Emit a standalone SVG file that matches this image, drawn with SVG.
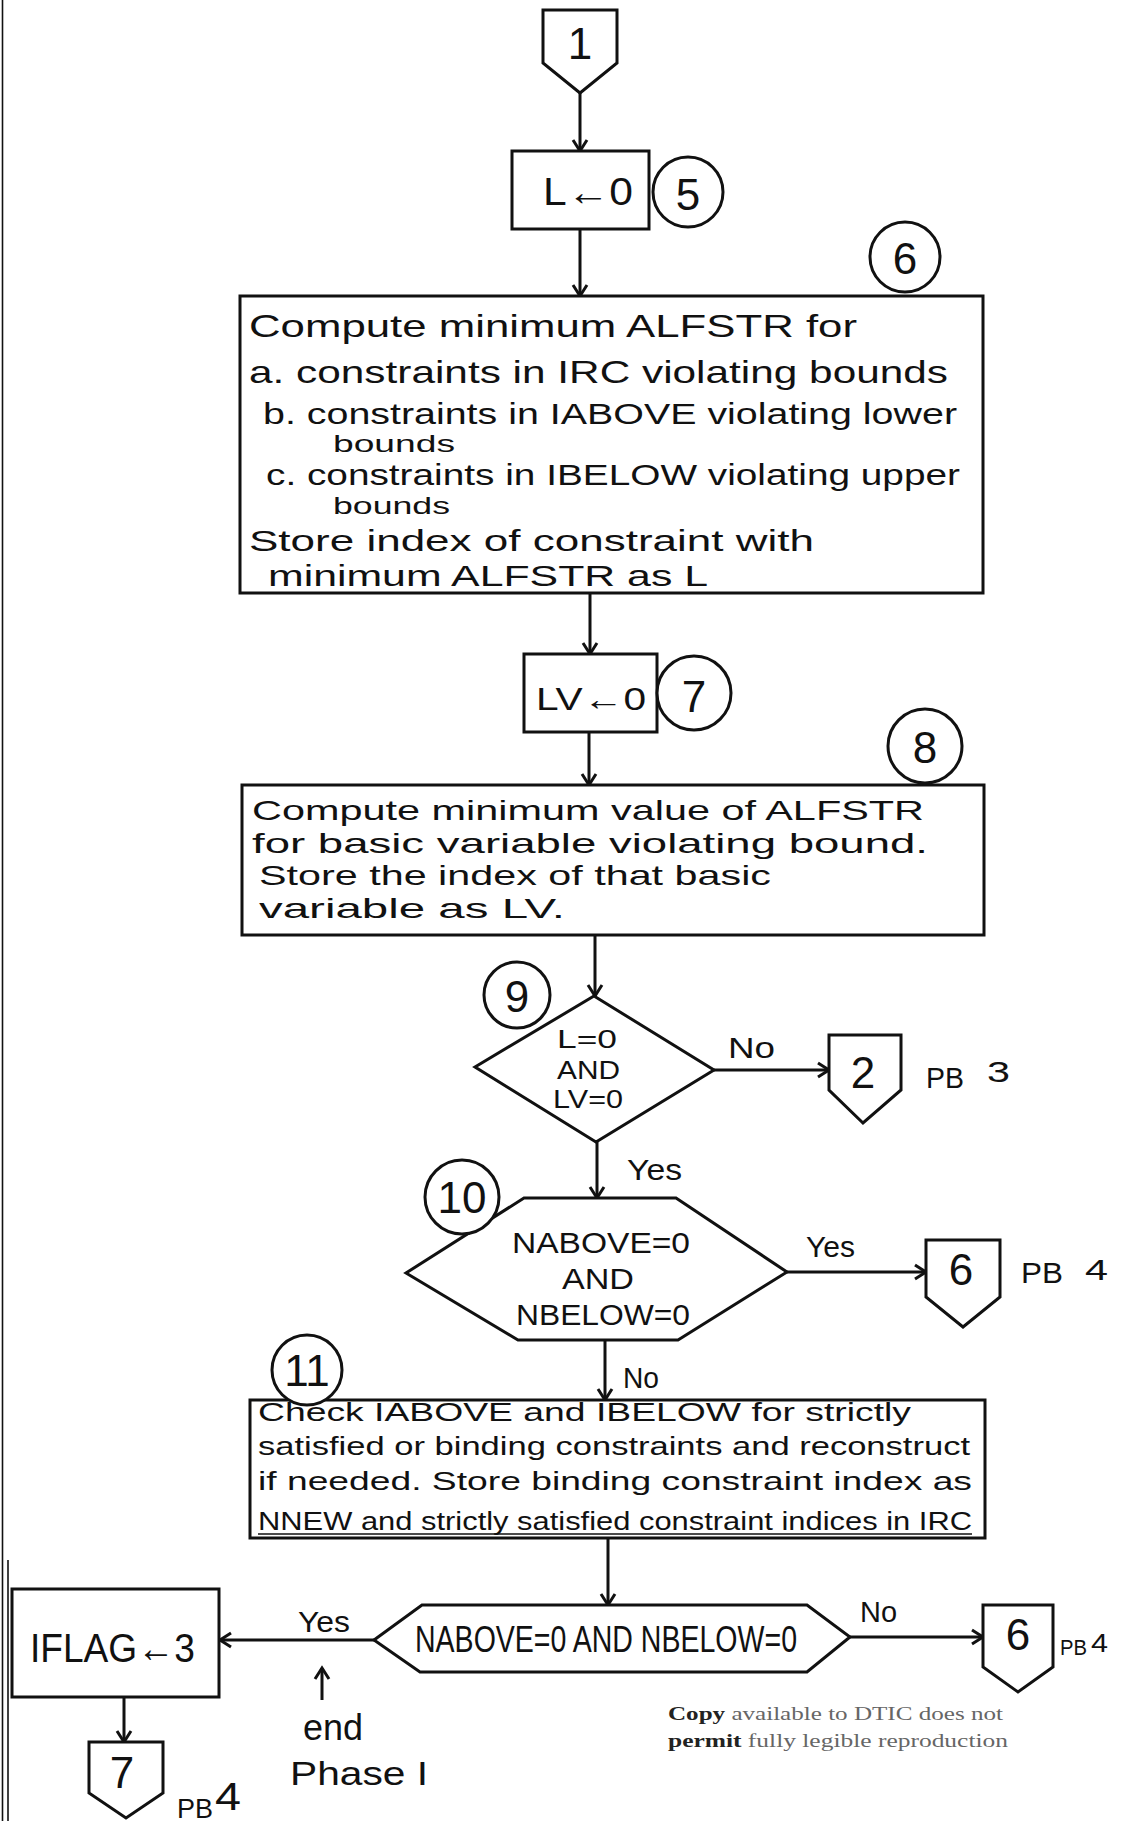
<svg xmlns="http://www.w3.org/2000/svg" width="1148" height="1821" viewBox="0 0 1148 1821">
<style>
.sh{fill:#fff;stroke:#111;stroke-width:3;stroke-linejoin:miter}
.ln{fill:none;stroke:#111;stroke-width:3}
.thin{fill:none;stroke:#111;stroke-width:1.6}
text{font-family:"Liberation Sans",Arial,sans-serif;fill:#111}
.t32{font-size:32px}
.t30{font-size:30px}
.t28{font-size:28px}
.t26{font-size:26px}
.t24{font-size:24px}
.num{font-size:44px;text-anchor:middle}
.lbl{font-size:30px}
.cr{font-family:"Liberation Serif","Times New Roman",serif;font-size:18px;fill:#666}
</style>
<defs>
<marker id="ah" markerWidth="18" markerHeight="18" refX="14" refY="9" orient="auto" markerUnits="userSpaceOnUse">
<path d="M3,2 L14,9 L3,16" fill="none" stroke="#111" stroke-width="3"/>
</marker>
</defs>
<rect x="0" y="0" width="1148" height="1821" fill="#fff"/>
<line x1="2.5" y1="0" x2="2.5" y2="1821" class="thin"/>
<line x1="8" y1="1560" x2="8" y2="1821" class="thin"/>

<g id="connectors">
<line x1="580" y1="93" x2="580" y2="151" class="ln" marker-end="url(#ah)"/>
<line x1="580" y1="229" x2="580" y2="296" class="ln" marker-end="url(#ah)"/>
<line x1="590" y1="593" x2="590" y2="654" class="ln" marker-end="url(#ah)"/>
<line x1="589" y1="732" x2="589" y2="785" class="ln" marker-end="url(#ah)"/>
<line x1="595" y1="935" x2="595" y2="996" class="ln" marker-end="url(#ah)"/>
<line x1="714" y1="1070" x2="829" y2="1070" class="ln" marker-end="url(#ah)"/>
<line x1="597" y1="1142" x2="597" y2="1198" class="ln" marker-end="url(#ah)"/>
<line x1="787" y1="1272" x2="926" y2="1272" class="ln" marker-end="url(#ah)"/>
<line x1="605" y1="1340" x2="605" y2="1400" class="ln" marker-end="url(#ah)"/>
<line x1="608" y1="1538" x2="608" y2="1605" class="ln" marker-end="url(#ah)"/>
<line x1="850" y1="1637" x2="983" y2="1637" class="ln" marker-end="url(#ah)"/>
<line x1="374" y1="1640" x2="220" y2="1640" class="ln" marker-end="url(#ah)"/>
<line x1="124" y1="1697" x2="124" y2="1742" class="ln" marker-end="url(#ah)"/>
<line x1="322" y1="1700" x2="322" y2="1668" class="ln" stroke-width="2.5" marker-end="url(#ah)"/>
<text x="728" y="1058" class="lbl" textLength="47" lengthAdjust="spacingAndGlyphs">No</text>
<text x="627" y="1180" class="lbl" textLength="55" lengthAdjust="spacingAndGlyphs">Yes</text>
<text x="806" y="1257" class="lbl" textLength="49" lengthAdjust="spacingAndGlyphs">Yes</text>
<text x="623" y="1388" class="lbl" textLength="36" lengthAdjust="spacingAndGlyphs">No</text>
<text x="860" y="1622" class="lbl" textLength="37" lengthAdjust="spacingAndGlyphs">No</text>
<text x="298" y="1632" class="lbl" textLength="52" lengthAdjust="spacingAndGlyphs">Yes</text>
</g>

<g id="n1">
<polygon points="543,10 617,10 617,63 580,93 543,63" class="sh"/>
<text x="580" y="59" class="num" font-size="40">1</text>
</g>

<g id="n5">
<rect x="512" y="151" width="137" height="78" class="sh"/>
<text x="543" y="205" font-size="38" textLength="90" lengthAdjust="spacingAndGlyphs">L←0</text>
<circle cx="688" cy="192" r="35" class="sh"/>
<text x="688" y="210" class="num">5</text>
</g>

<g id="n6">
<rect x="240" y="296" width="743" height="297" class="sh"/>
<text x="249" y="337" class="t32" textLength="608" lengthAdjust="spacingAndGlyphs">Compute minimum ALFSTR for</text>
<text x="249" y="383" class="t32" textLength="699" lengthAdjust="spacingAndGlyphs">a. constraints in IRC violating bounds</text>
<text x="263" y="424" class="t30" textLength="694" lengthAdjust="spacingAndGlyphs">b. constraints in IABOVE violating lower</text>
<text x="333" y="452" class="t24" textLength="122" lengthAdjust="spacingAndGlyphs">bounds</text>
<text x="266" y="485" class="t30" textLength="694" lengthAdjust="spacingAndGlyphs">c. constraints in IBELOW violating upper</text>
<text x="333" y="514" class="t24" textLength="117" lengthAdjust="spacingAndGlyphs">bounds</text>
<text x="249" y="551" class="t30" textLength="565" lengthAdjust="spacingAndGlyphs">Store index of constraint with</text>
<text x="268" y="586" class="t30" textLength="440" lengthAdjust="spacingAndGlyphs">minimum ALFSTR as L</text>
<circle cx="905" cy="257" r="35" class="sh"/>
<text x="905" y="274" class="num">6</text>
</g>

<g id="n7">
<rect x="524" y="654" width="133" height="78" class="sh"/>
<text x="536" y="710" font-size="32" textLength="110" lengthAdjust="spacingAndGlyphs">LV←0</text>
<circle cx="694" cy="693" r="37" class="sh"/>
<text x="694" y="712" class="num">7</text>
</g>

<g id="n8">
<rect x="242" y="785" width="742" height="150" class="sh"/>
<text x="252" y="820" class="t28" textLength="672" lengthAdjust="spacingAndGlyphs">Compute minimum value of ALFSTR</text>
<text x="252" y="853" class="t28" textLength="676" lengthAdjust="spacingAndGlyphs">for basic variable violating bound.</text>
<text x="259" y="885" class="t28" textLength="512" lengthAdjust="spacingAndGlyphs">Store the index of that basic</text>
<text x="259" y="918" class="t28" textLength="306" lengthAdjust="spacingAndGlyphs">variable as LV.</text>
<circle cx="925" cy="746" r="37" class="sh"/>
<text x="925" y="763" class="num">8</text>
</g>

<g id="n9">
<polygon points="594,996 714,1070 596,1142 475,1067" class="sh"/>
<text x="557" y="1048" font-size="25" textLength="60" lengthAdjust="spacingAndGlyphs">L=0</text>
<text x="557" y="1079" font-size="25" textLength="63" lengthAdjust="spacingAndGlyphs">AND</text>
<text x="553" y="1108" font-size="25" textLength="70" lengthAdjust="spacingAndGlyphs">LV=0</text>
<circle cx="517" cy="995" r="33" class="sh"/>
<text x="517" y="1012" class="num" font-size="40">9</text>
</g>

<g id="p2">
<polygon points="829,1035 901,1035 901,1090 863,1123 829,1090" class="sh"/>
<text x="863" y="1088" class="num" font-size="38">2</text>
<text x="926" y="1088" class="lbl" textLength="38" lengthAdjust="spacingAndGlyphs">PB</text>
<text x="987" y="1082" class="lbl" textLength="23" lengthAdjust="spacingAndGlyphs">3</text>
</g>

<g id="n10">
<polygon points="524,1198 676,1198 787,1272 678,1340 518,1340 406,1273" class="sh"/>
<text x="512" y="1253" class="t30" textLength="178" lengthAdjust="spacingAndGlyphs">NABOVE=0</text>
<text x="562" y="1289" class="t30" textLength="72" lengthAdjust="spacingAndGlyphs">AND</text>
<text x="516" y="1325" class="t30" textLength="174" lengthAdjust="spacingAndGlyphs">NBELOW=0</text>
<circle cx="462" cy="1197" r="37" class="sh"/>
<text x="462" y="1213" class="num" font-size="40">10</text>
</g>

<g id="p6a">
<polygon points="926,1240 1000,1240 1000,1297 963,1327 926,1297" class="sh"/>
<text x="961" y="1285" class="num" font-size="38">6</text>
<text x="1021" y="1283" class="lbl" textLength="42" lengthAdjust="spacingAndGlyphs">PB</text>
<text x="1085" y="1280" class="lbl" textLength="23" lengthAdjust="spacingAndGlyphs">4</text>
</g>

<g id="n11">
<rect x="250" y="1400" width="735" height="138" class="sh"/>
<text x="258" y="1421" class="t26" textLength="653" lengthAdjust="spacingAndGlyphs">Check IABOVE and IBELOW for strictly</text>
<text x="258" y="1455" class="t26" textLength="712" lengthAdjust="spacingAndGlyphs">satisfied or binding constraints and reconstruct</text>
<text x="258" y="1490" class="t26" textLength="714" lengthAdjust="spacingAndGlyphs">if needed. Store binding constraint index as</text>
<text x="258" y="1530" class="t26" textLength="714" lengthAdjust="spacingAndGlyphs">NNEW and strictly satisfied constraint indices in IRC</text>
<line x1="258" y1="1534" x2="972" y2="1534" class="thin"/>
<circle cx="307" cy="1370" r="35" class="sh"/>
<text x="307" y="1386" class="num" font-size="40">11</text>
</g>

<g id="n12">
<polygon points="422,1605 807,1605 850,1637 807,1672 420,1672 374,1640" class="sh"/>
<text transform="translate(415,1652) scale(1,1.25)" font-size="29" textLength="382" lengthAdjust="spacingAndGlyphs">NABOVE=0 AND NBELOW=0</text>
</g>

<g id="p6b">
<polygon points="983,1605 1053,1605 1053,1667 1018,1692 983,1667" class="sh"/>
<text x="1018" y="1650" class="num" font-size="36">6</text>
<text x="1060" y="1655" font-size="22" textLength="27" lengthAdjust="spacingAndGlyphs">PB</text>
<text x="1091" y="1652" font-size="26" textLength="17" lengthAdjust="spacingAndGlyphs">4</text>
</g>

<g id="iflag">
<rect x="12" y="1589" width="207" height="108" class="sh"/>
<text x="30" y="1662" font-size="40" textLength="165" lengthAdjust="spacingAndGlyphs">IFLAG←3</text>
</g>

<g id="p7">
<polygon points="89,1742 163,1742 163,1793 126,1818 89,1793" class="sh"/>
<text x="122" y="1788" class="num" font-size="38">7</text>
<text x="177" y="1818" font-size="28" textLength="36" lengthAdjust="spacingAndGlyphs">PB</text>
<text x="215" y="1810" font-size="38" textLength="26" lengthAdjust="spacingAndGlyphs">4</text>
</g>

<g id="endnote">
<text x="303" y="1740" font-size="36" textLength="60" lengthAdjust="spacingAndGlyphs">end</text>
<text x="290" y="1785" font-size="34" textLength="138" lengthAdjust="spacingAndGlyphs">Phase I</text>
</g>

<g id="notice">
<text x="668" y="1720" class="cr" textLength="335" lengthAdjust="spacingAndGlyphs"><tspan font-weight="bold" fill="#222">Copy</tspan> available to DTIC does not</text>
<text x="668" y="1747" class="cr" textLength="340" lengthAdjust="spacingAndGlyphs"><tspan font-weight="bold" fill="#222">permit</tspan> fully legible reproduction</text>
</g>
</svg>
